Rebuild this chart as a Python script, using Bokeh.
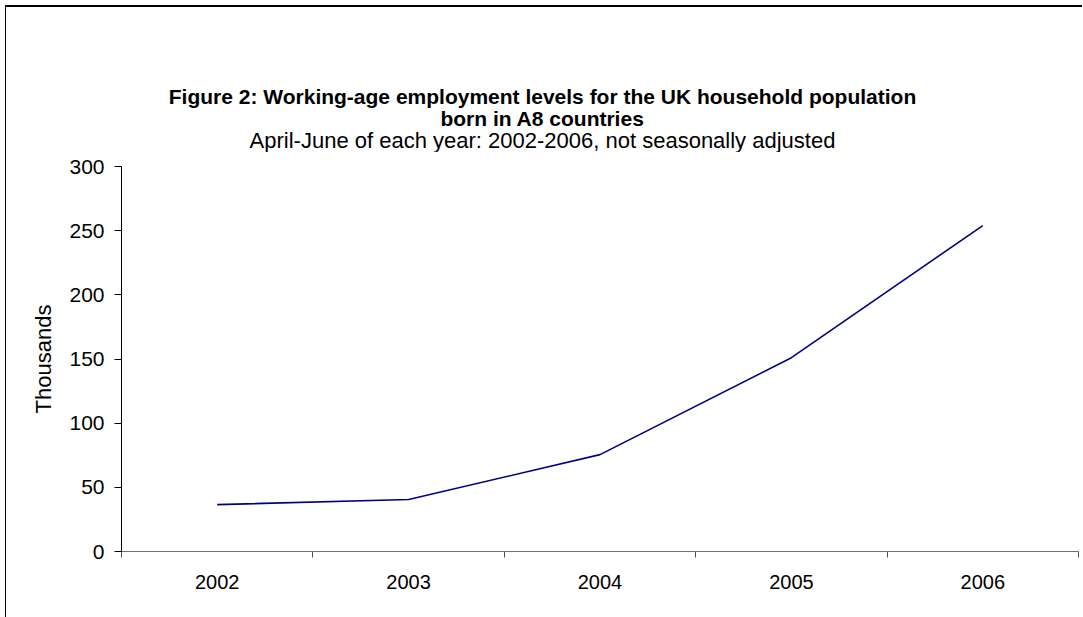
from bokeh.plotting import figure
from bokeh.models import Range1d, LinearAxis, FixedTicker
from bokeh.layouts import column
from bokeh.core.properties import value
from bokeh.embed import file_html
from bokeh.resources import INLINE

years = ["2002", "2003", "2004", "2005", "2006"]
employment = [36.5, 40.5, 75.5, 151.0, 254.0]
y_ticks = [0, 50, 100, 150, 200, 250, 300]

title_lines = ["Figure 2: Working-age employment levels for the UK household population",
               "born in A8 countries",
               "April-June of each year: 2002-2006, not seasonally adjusted"]
title_styles = ["bold", "bold", "normal"]
title_sizes = ["21px", "21px", "22px"]
y_label = "Thousands"

FONT = "Liberation Sans"
W = 1076
LEFT = 115
RIGHT = 4
TOP_H = 145
MAIN_H = 465
FRAME_W = W - LEFT - RIGHT

# ---- title strip (frame aligned with the chart frame) ----
t = figure(width=W, height=TOP_H, output_backend="svg", toolbar_location=None,
           x_range=Range1d(0, FRAME_W), y_range=Range1d(TOP_H, 0),
           x_axis_type=None, y_axis_type=None,
           min_border_left=LEFT, min_border_right=RIGHT,
           min_border_top=0, min_border_bottom=0)
t.outline_line_color = None
t.xgrid.visible = False
t.ygrid.visible = False
t.background_fill_color = "white"
t.border_fill_color = "white"
t.text(x=[421, 421, 421], y=[89, 111, 133], text=title_lines,
       text_align="center", text_baseline="alphabetic",
       text_font=value(FONT), text_font_size=title_sizes,
       text_font_style=title_styles, text_color="#000000")

# ---- main chart ----
n = len(years)
x_centers = [i + 0.5 for i in range(n)]
x_bounds = list(range(n + 1))

p = figure(width=W, height=MAIN_H, output_backend="svg", toolbar_location=None,
           x_range=Range1d(0, n), y_range=Range1d(0, 300),
           x_axis_type=None, y_axis_type=None,
           min_border_left=LEFT, min_border_right=RIGHT, min_border_top=14, min_border_bottom=66)
p.outline_line_color = None
p.xgrid.visible = False
p.ygrid.visible = False
p.background_fill_color = "white"
p.border_fill_color = "white"

p.line(x_centers, employment, line_color="#000080", line_width=1.6)

yax = LinearAxis(ticker=FixedTicker(ticks=y_ticks), axis_label=y_label)
yax.axis_line_color = "#000000"
yax.major_tick_line_color = "#000000"
yax.major_tick_out = 7
yax.major_tick_in = 0
yax.minor_tick_line_color = None
yax.major_label_standoff = 10
yax.major_label_text_font = FONT
yax.major_label_text_font_size = "21px"
yax.major_label_text_color = "#000000"
yax.axis_label_text_font = FONT
yax.axis_label_text_font_size = "22px"
yax.axis_label_text_font_style = "normal"
yax.axis_label_text_color = "#000000"
yax.axis_label_standoff = 10
p.add_layout(yax, "left")

xax = LinearAxis(ticker=FixedTicker(ticks=x_bounds),
                 major_label_overrides={b: "" for b in x_bounds})
xax.axis_line_color = "#707070"
xax.major_tick_line_color = "#505050"
xax.major_tick_out = 6
xax.major_tick_in = 0
xax.minor_tick_line_color = None
xax.major_label_text_font_size = "1px"
xax.major_label_standoff = 0
p.add_layout(xax, "below")

xlab = LinearAxis(ticker=FixedTicker(ticks=x_centers),
                  major_label_overrides={c: yr for c, yr in zip(x_centers, years)})
xlab.axis_line_color = None
xlab.major_tick_line_color = None
xlab.minor_tick_line_color = None
xlab.major_tick_out = 0
xlab.major_tick_in = 0
xlab.major_label_standoff = 17
xlab.major_label_text_font = FONT
xlab.major_label_text_font_size = "20px"
xlab.major_label_text_color = "#000000"
p.add_layout(xlab, "below")

layout = column(t, p, spacing=0)
layout.styles = {"margin-left": "5px", "margin-top": "5px",
                 "border-top": "2px solid #000000", "border-left": "1px solid #000000"}

open("out.html", "w").write(file_html(layout, INLINE))
